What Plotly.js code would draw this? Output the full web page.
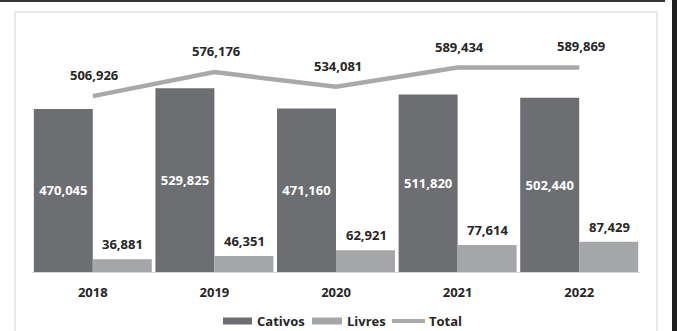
<!DOCTYPE html>
<html>
<head>
<meta charset="utf-8">
<script src="https://cdn.plot.ly/plotly-3.0.1.min.js"></script>
<style>
html,body{margin:0;padding:0;background:#fff;}
#chart{width:677px;height:331px;}
</style>
</head>
<body>
<div id="chart"></div>
<script>
const years = ['2018', '2019', '2020', '2021', '2022'];
const cativos = [470045, 529825, 471160, 511820, 502440];
const livres = [36881, 46351, 62921, 77614, 87429];
const total = [506926, 576176, 534081, 589434, 589869];
const seriesNames = ['Cativos', 'Livres', 'Total'];

const W = 677, H = 331;
const mL = 32, mR = 37, mT = 50, mB = 59;
const pw = W - mL - mR, ph = H - mT - mB;
const px = x => (x - mL) / pw;
const py = y => (H - mB - y) / ph;

const cCativos = '#6d6e71';
const cLivres = '#a5a6a8';
const cTotal = '#a9a9a9';
const txt = '#262626';
const fam = '"Open Sans", "DejaVu Sans", sans-serif';

const traces = [
  {
    type: 'bar', name: seriesNames[0], x: years, y: cativos,
    marker: {color: cCativos},
    texttemplate: '%{y:,}', textposition: 'inside', insidetextanchor: 'middle',
    textfont: {color: '#ffffff', size: 13, family: fam, weight: 'bold'},
    hoverinfo: 'skip', showlegend: false
  },
  {
    type: 'bar', name: seriesNames[1], x: years, y: livres,
    marker: {color: cLivres},
    hoverinfo: 'skip', showlegend: false
  },
  {
    type: 'scatter', mode: 'lines', name: seriesNames[2], x: years, y: total,
    line: {color: cTotal, width: 4.5},
    hoverinfo: 'skip', showlegend: false
  }
];

const annotations = [];
years.forEach((yr, i) => {
  annotations.push({x: i, y: total[i], xref: 'x', yref: 'y', text: total[i].toLocaleString('en-US'),
    showarrow: false, yshift: 21, yanchor: 'middle', xshift: 2,
    font: {size: 13, color: txt, family: fam, weight: 'bold'}});
  annotations.push({x: i, y: livres[i], xref: 'x', yref: 'y', text: livres[i].toLocaleString('en-US'),
    showarrow: false, yshift: 15, yanchor: 'middle', xshift: 30,
    font: {size: 13, color: txt, family: fam, weight: 'bold'}});
});

// custom legend
const legY = 321;
const shapes = [
  {type: 'rect', xref: 'paper', yref: 'paper', x0: px(223), x1: px(252), y0: py(317.5), y1: py(324.5), fillcolor: cCativos, line: {width: 0}},
  {type: 'rect', xref: 'paper', yref: 'paper', x0: px(312), x1: px(342), y0: py(317.5), y1: py(324.5), fillcolor: cLivres, line: {width: 0}},
  {type: 'line', xref: 'paper', yref: 'paper', x0: px(392), x1: px(425), y0: py(legY), y1: py(legY), line: {color: cTotal, width: 4}},
  // frame decorations
  {type: 'rect', xref: 'paper', yref: 'paper', x0: px(15), x1: px(657), y0: py(12), y1: py(345), fillcolor: 'rgba(0,0,0,0)', line: {color: '#e2e2e2', width: 1.5}, layer: 'below'},
  {type: 'rect', xref: 'paper', yref: 'paper', x0: px(0), x1: px(665), y0: py(0), y1: py(2), fillcolor: '#333333', line: {width: 0}},
  {type: 'rect', xref: 'paper', yref: 'paper', x0: px(672), x1: px(678), y0: py(-1), y1: py(332), fillcolor: '#1e1e1e', line: {width: 0}}
];
const legX = [255, 345, 427];
seriesNames.forEach((n, i) => {
  annotations.push({xref: 'paper', yref: 'paper', x: px(legX[i]), y: py(legY), xanchor: 'left', yanchor: 'middle',
    text: n, showarrow: false, font: {size: 13, color: txt, family: fam, weight: 'bold'}});
});

const layout = {
  width: W, height: H,
  margin: {l: mL, r: mR, t: mT, b: mB, pad: 0},
  paper_bgcolor: '#ffffff', plot_bgcolor: '#ffffff',
  barmode: 'group', bargap: 0.03, bargroupgap: 0,
  showlegend: false,
  xaxis: {type: 'category', range: [-0.5, 4.5], autorange: false, showgrid: false, zeroline: false, showline: true, linecolor: '#d9d9d9', linewidth: 1,
    ticks: '', ticklabelstandoff: 8, tickfont: {size: 13, color: txt, family: fam, weight: 'bold'}, fixedrange: true},
  yaxis: {range: [0, 640000], autorange: false, showgrid: false, zeroline: false, showline: false, showticklabels: false, ticks: '', fixedrange: true},
  annotations: annotations,
  shapes: shapes,
  font: {family: fam, color: txt}
};

Plotly.newPlot('chart', traces, layout, {displayModeBar: false, staticPlot: true});
</script>
</body>
</html>
